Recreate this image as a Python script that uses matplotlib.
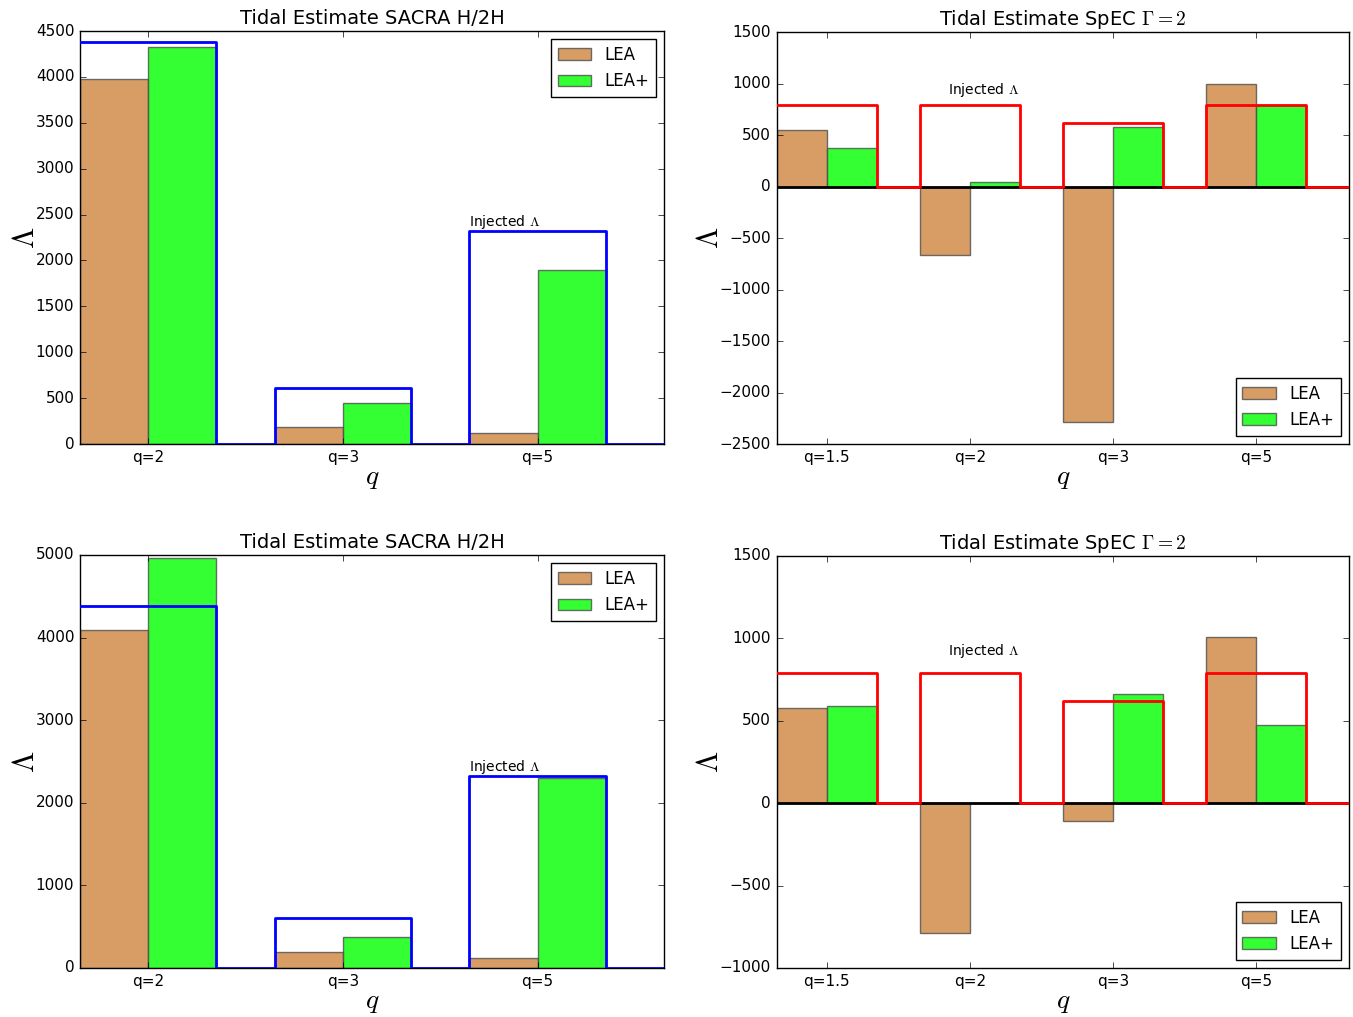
import numpy as np
import matplotlib
matplotlib.use('Agg')
import matplotlib.pyplot as plt

plt.style.use('classic')
plt.rcParams['figure.facecolor'] = 'white'
plt.rcParams['savefig.facecolor'] = 'white'
plt.rcParams['mathtext.fontset'] = 'cm'

# SACRA H/2H data
sacra_labels = ['q=2', 'q=3', 'q=5']
sacra_injected = [4385, 605, 2325]
sacra_lea_top = [3977, 185, 115]
sacra_leap_top = [4322, 452, 1893]
sacra_lea_bot = [4094, 189, 121]
sacra_leap_bot = [4958, 375, 2301]

# SpEC Gamma=2 data
spec_labels = ['q=1.5', 'q=2', 'q=3', 'q=5']
spec_injected = [790, 790, 620, 790]
spec_lea_top = [549, -660, -2290, 993]
spec_leap_top = [373, 42, 581, 789]
spec_lea_bot = [579, -789, -110, 1008]
spec_leap_bot = [587, 0, 665, 476]

width = 0.35
lea_color = 'peru'
leap_color = 'lime'


def injected_step(values):
    # step outline of the injected values, zero between the groups
    x = []
    y = []
    for i, v in enumerate(values):
        x += [i - width, i + width]
        y += [v, 0]
    x.append(len(values) - 1 + 0.65)
    y.append(0)
    return np.array(x), np.array(y)


def make_panel(ax, labels, lea, leap, injected, title, line_color, ylim,
               yticks, legend_loc, text_pos, zero_line):
    idx = np.arange(len(labels))
    ax.bar(idx - width, lea, width, align='edge', color=lea_color,
           alpha=0.8, edgecolor='0.3', label='LEA')
    ax.bar(idx, leap, width, align='edge', color=leap_color,
           alpha=0.8, edgecolor='0.3', label='LEA+')
    if zero_line:
        ax.axhline(0, color='k', lw=2, zorder=2)
    xs, ys = injected_step(injected)
    ax.step(xs, ys, where='post', color=line_color, lw=2, zorder=3)
    ax.text(text_pos[0], text_pos[1], r'Injected $\Lambda$', fontsize=10)
    ax.set_xlim(-width, len(labels) - 1 + 0.65)
    ax.set_ylim(*ylim)
    ax.set_yticks(yticks)
    ax.set_xticks(idx)
    ax.set_xticklabels(labels)
    ax.tick_params(labelsize=11)
    ax.set_title(title, fontsize=14)
    ax.set_xlabel(r'$q$', fontsize=20, labelpad=-1)
    ax.set_ylabel(r'$\Lambda$', fontsize=22, labelpad=-3)
    ax.legend(loc=legend_loc, fontsize=12)


fig = plt.figure(figsize=(13.53, 10.17), dpi=100)

ax1 = fig.add_axes([0.059, 0.5634, 0.432, 0.4061])
make_panel(ax1, sacra_labels, sacra_lea_top, sacra_leap_top, sacra_injected,
           'Tidal Estimate SACRA H/2H', 'b', (0, 4500),
           np.arange(0, 4501, 500), 'upper right', (1.65, 2380), False)

ax2 = fig.add_axes([0.574, 0.5634, 0.423, 0.4051])
make_panel(ax2, spec_labels, spec_lea_top, spec_leap_top, spec_injected,
           r'Tidal Estimate SpEC $\Gamma=2$', 'r', (-2500, 1500),
           np.arange(-2500, 1501, 500), 'lower right', (0.85, 900), True)

ax3 = fig.add_axes([0.059, 0.0482, 0.432, 0.4061])
make_panel(ax3, sacra_labels, sacra_lea_bot, sacra_leap_bot, sacra_injected,
           'Tidal Estimate SACRA H/2H', 'b', (0, 5000),
           np.arange(0, 5001, 1000), 'upper right', (1.65, 2380), False)

ax4 = fig.add_axes([0.574, 0.0482, 0.423, 0.4051])
make_panel(ax4, spec_labels, spec_lea_bot, spec_leap_bot, spec_injected,
           r'Tidal Estimate SpEC $\Gamma=2$', 'r', (-1000, 1500),
           np.arange(-1000, 1501, 500), 'lower right', (0.85, 900), True)

fig.savefig('out.png', dpi=100)
